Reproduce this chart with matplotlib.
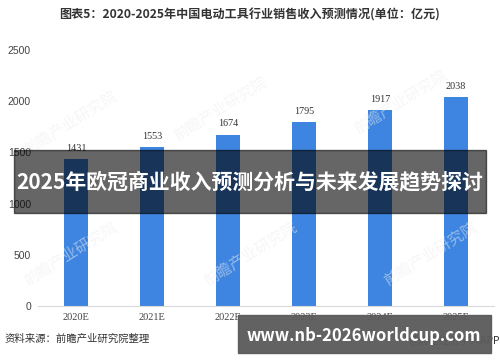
import matplotlib
matplotlib.use("Agg")
import matplotlib.pyplot as plt
from matplotlib.patches import Rectangle

plt.rcParams['font.family'] = ['Noto Sans CJK SC', 'DejaVu Sans']

years = ["2020E", "2021E", "2022E", "2023E", "2024E", "2025E"]
revenue = [1431, 1553, 1674, 1795, 1917, 2038]
yticks = [0, 500, 1000, 1500, 2000, 2500]

title = "图表5：2020-2025年中国电动工具行业销售收入预测情况(单位：亿元)"
source = "资料来源：前瞻产业研究院整理"
banner = "2025年欧冠商业收入预测分析与未来发展趋势探讨"
site = "www.nb-2026worldcup.com"

fig = plt.figure(figsize=(5, 3.62), dpi=100)
ax = fig.add_axes([0.076, 0.1547, 0.912, 0.7073])

x = range(len(years))
ax.bar(x, revenue, width=0.32, color="#3d85e0", zorder=2)
for xi, v in zip(x, revenue):
    ax.text(xi, v + 60, str(v), ha="center", va="bottom", fontsize=7.3,
            family="Liberation Serif", color="#333333")

ax.set_xlim(-0.5, len(years) - 0.5)
ax.set_ylim(0, 2500)
ax.set_yticks(yticks)
ax.set_yticklabels([str(t) for t in yticks], family="Liberation Sans",
                   fontsize=7.5, color="#444444")
ax.set_xticks(list(x))
ax.set_xticklabels(years, family="Liberation Serif", fontsize=7.5, color="#444444")
ax.tick_params(length=0, pad=5)
for s in ["top", "right", "left"]:
    ax.spines[s].set_visible(False)
ax.spines["bottom"].set_color("#d9d9d9")

# faint watermarks
for wx, wy in [(0.14, 0.66), (0.44, 0.70), (0.80, 0.72), (0.14, 0.30),
               (0.50, 0.30), (0.86, 0.30)]:
    fig.text(wx, wy, "前瞻产业研究院", fontsize=11, color="#eeeeee",
             rotation=32, ha="center", va="center", zorder=0, alpha=0.5)

fig.text(0.5, 0.958, title, ha="center", va="center", fontsize=8.7,
         fontweight="bold", color="#333333")
fig.text(0.01, 0.063, source, ha="left", va="center", fontsize=7.5,
         color="#333333")
fig.text(1.0, 0.063, "@前瞻经济学人APP", ha="right", va="center",
         fontsize=7.5, color="#333333", zorder=1)

# overlay banners
fig.patches.append(Rectangle((14 / 500, 1 - 213 / 362), 472 / 500, 63 / 362,
                             transform=fig.transFigure, color="black",
                             alpha=0.6, zorder=5))
fig.text(0.5, 1 - 182 / 362, banner, ha="center", va="center", fontsize=15,
         fontweight="bold", color="white", zorder=6)
fig.patches.append(Rectangle((238 / 500, 1 - 353 / 362), 253 / 500, 38 / 362,
                             transform=fig.transFigure, color="#5a5a5a",
                             alpha=0.95, zorder=5))
fig.text(364 / 500, 1 - 336 / 362, site, ha="center", va="center", fontsize=12,
         fontweight="bold", color="white", zorder=6)

fig.savefig("out.png", dpi=100)
